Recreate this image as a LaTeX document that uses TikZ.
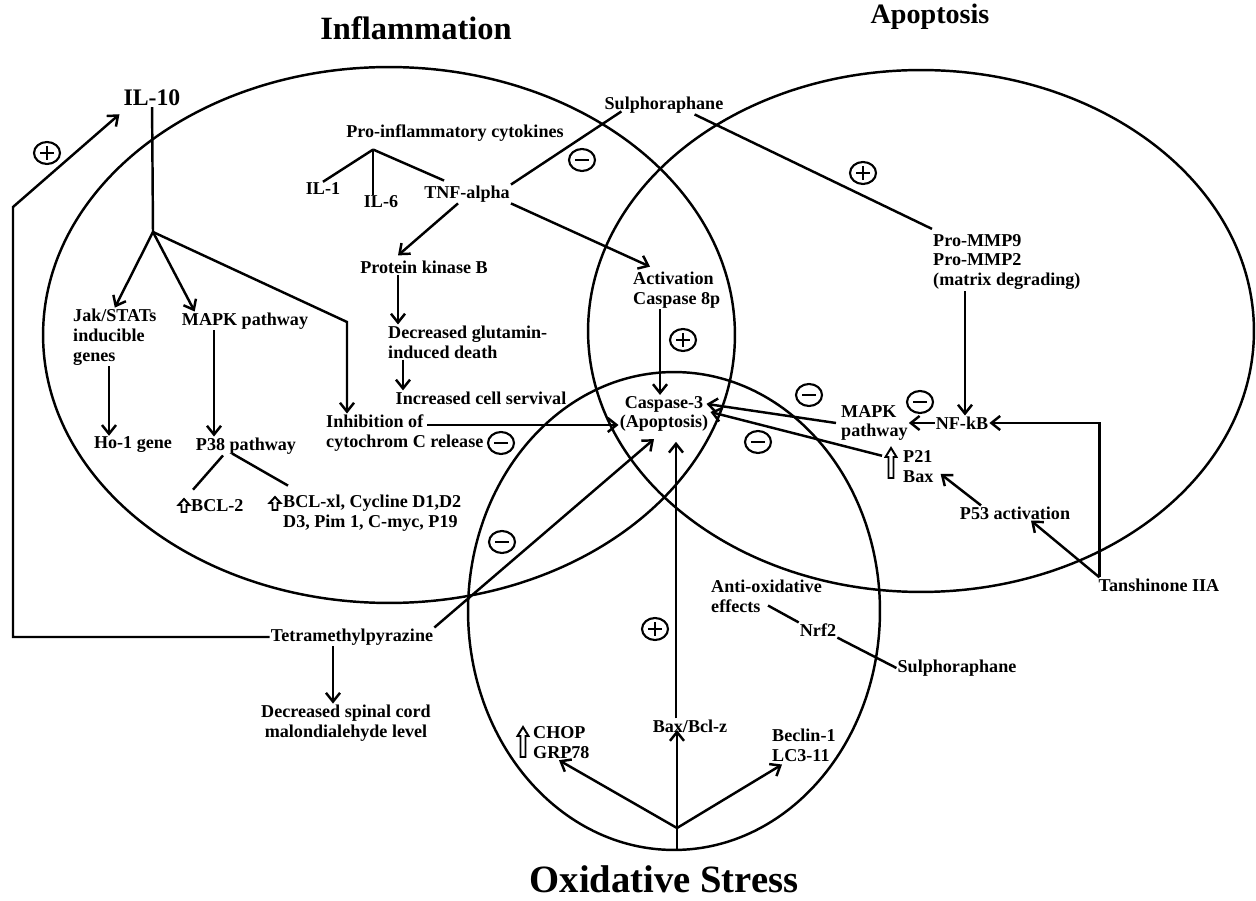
\documentclass[tikz,border=0pt]{standalone}
\usepackage{fontspec}
\setmainfont{Liberation Serif}
\usetikzlibrary{arrows.meta,calc}
\tikzset{
  lbl/.style={font=\bfseries\fontsize{10.3}{11.3}\selectfont, inner sep=0.5pt},
  ttl/.style={font=\bfseries\fontsize{#1}{#1}\selectfont, inner sep=0.5pt},
  ln/.style={line width=1.4pt},
  arr/.style={ln, -{Straight Barb[length=5pt,width=8pt]}},
  ell/.style={line width=1.4pt},
  minusc/.pic={\draw[line width=1.2pt] (0,0) ellipse [x radius=0.26cm, y radius=0.22cm];
               \draw[line width=1.6pt] (-7,0) -- (7,0);},
  plusc/.pic={\draw[line width=1.2pt] (0,0) ellipse [x radius=0.26cm, y radius=0.22cm];
              \draw[line width=1.6pt] (-7,0) -- (7,0) (0,-7) -- (0,7);},
  huptall/.pic={\draw[line width=1.1pt, line join=miter] (-2.5,0) -- (-2.5,-21) -- (-5.5,-21) -- (0,-30) -- (5.5,-21) -- (2.5,-21) -- (2.5,0) -- cycle;},
  hupsmall/.pic={\draw[line width=1.1pt, line join=miter] (-2.5,0) -- (-2.5,-7) -- (-5.5,-7) -- (0,-13) -- (5.5,-7) -- (2.5,-7) -- (2.5,0) -- cycle;}
}
\begin{document}
\begin{tikzpicture}[x=0.02cm,y=-0.02cm]
\fill[white] (0,0) rectangle (1256,901);
\useasboundingbox (0,0) rectangle (1256,901);

% circles
\draw[ell] (389,335) ellipse [x radius=6.92cm, y radius=5.36cm];
\draw[ell] (921,331) ellipse [x radius=6.66cm, y radius=5.22cm];
\draw[ell] (674,611) ellipse [x radius=4.12cm, y radius=4.78cm];

% titles
\node[ttl=18.5] (tinfl) at (416,28) {Inflammation};
\node[ttl=16] (tapop) at (930,17) {Apoptosis};
\node[ttl=22] (toxid) at (664,879) {Oxidative Stress};

% nodes
\node[lbl, font=\bfseries\fontsize{13.5}{15}\selectfont] (il10) at (152,98) {IL-10};
\node[lbl] (procyt) at (455,133) {Pro-inflammatory cytokines};
\node[lbl] (il1) at (323,189) {IL-1};
\node[lbl] (il6) at (381,202) {IL-6};
\node[lbl] (tnf) at (467,194) {TNF-alpha};
\node[lbl] (pkb) at (424,267) {Protein kinase B};
\node[lbl, align=left, anchor=west] (decr) at (387,342) {Decreased glutamin-\\induced death};
\node[lbl] (incr) at (481,398) {Increased cell servival};
\node[lbl, align=left, anchor=west] (jak) at (72,337) {Jak/STATs\\inducible\\genes};
\node[lbl] (ho1) at (133,445) {Ho-1 gene};
\node[lbl] (mapk1) at (245,321) {MAPK pathway};
\node[lbl] (p38) at (246,446) {P38 pathway};
\node[lbl, anchor=west] (bcl2) at (190,506) {BCL-2};
\node[lbl, align=left, anchor=west] (bclxl) at (282,513) {BCL-xl, Cycline D1,D2\\D3, Pim 1, C-myc, P19};
\node[lbl, align=left, anchor=west] (inhib) at (325,433) {Inhibition of\\cytochrom C release};
\node[lbl, align=left, anchor=west] (act) at (632,290) {Activation\\Caspase 8p};
\node[lbl, align=center] (casp) at (664,414) {Caspase-3\\(Apoptosis)};
\node[lbl] (sul1) at (664,105) {Sulphoraphane};
\node[lbl, align=left, anchor=west] (mmp) at (932,262) {Pro-MMP9\\Pro-MMP2\\(matrix degrading)};
\node[lbl] (nfkb) at (962,423) {NF-kB};
\node[lbl, align=left, anchor=west] (mapk2) at (840,423) {MAPK\\pathway};
\node[lbl, align=left, anchor=west] (p21) at (902,467) {P21\\Bax};
\node[lbl] (p53) at (1015,513) {P53 activation};
\node[lbl] (tan) at (1159,585) {Tanshinone IIA};
\node[lbl, align=left, anchor=west] (antiox) at (710,596) {Anti-oxidative\\effects};
\node[lbl] (nrf2) at (818,630) {Nrf2};
\node[lbl] (sul2) at (957,668) {Sulphoraphane};
\node[lbl] (baxbcl) at (690,726) {Bax/Bcl-z};
\node[lbl, align=left, anchor=west] (chop) at (532,743) {CHOP\\GRP78};
\node[lbl, align=left, anchor=west] (beclin) at (771,745) {Beclin-1\\LC3-11};
\node[lbl] (tmp) at (352,637) {Tetramethylpyrazine};
\node[lbl, align=center] (spinal) at (346,723) {Decreased spinal cord\\malondialehyde level};

% hollow up arrows
\pic at (184,512) {hupsmall};
\pic at (275,510) {hupsmall};
\pic at (523,757) {huptall};
\pic at (891,478) {huptall};

% plus / minus marks
\pic at (47,153) {plusc};
\pic at (582,160) {minusc};
\pic at (863,173) {plusc};
\pic at (683,340) {plusc};
\pic at (501,443) {minusc};
\pic at (502,542) {minusc};
\pic at (809,395) {minusc};
\pic at (920,402) {minusc};
\pic at (758,442) {minusc};
\pic at (655,629) {plusc};

% coordinates
\coordinate (il10b) at (153,232);
\coordinate (ibend) at (347,322);
\coordinate (cyta) at ($(procyt.south west)+(28,7)$);
\coordinate (p38l) at ($(p38.south)+(-23,0)$);
\coordinate (p38r) at ($(p38.south)+(-14,-2)$);
\coordinate (oxbot) at (677,850);
\coordinate (oxbr) at (677,828);
\coordinate (fbA) at (13,637);
\coordinate (fbB) at (13,207);
\coordinate (jo) at ($(jak.south west)+(37,0)$);
\coordinate (mo) at ($(mapk1.south)+(-31,0)$);
\coordinate (po) at ($(pkb.south)+(-26,0)$);
\coordinate (dco) at ($(decr.south west)+(16,0)$);
\coordinate (aco) at ($(act.south west)+(28,0)$);
\coordinate (iho) at ($(inhib.west)+(102,-8)$);
\coordinate (mo2) at ($(mmp.south west)+(33,0)$);
\coordinate (to) at ($(tan.north west)+(2,0)$);
\coordinate (bxo) at ($(baxbcl.north)+(-14,0)$);
\coordinate (tso) at ($(tmp.south)+(-19,0)$);

% IL-10 branch
\draw[ln] (il10) -- (il10b);
\draw[arr] (il10b) -- (jak.north);
\draw[arr] (il10b) -- ($(mapk1.north west)+(14,0)$);
\draw[arr] (il10b) -- (ibend) -- (ibend |- inhib.north);
\draw[arr] (jo) -- (jo |- ho1.north);
\draw[arr] (mo) -- (mo |- p38.north);
\draw[ln] (p38l) -- ($(bcl2.north west)+(3,-9)$);
\draw[ln] (p38r) -- ($(bclxl.north west)+(6,-8)$);

% cytokines
\draw[ln] (cyta) -- (il1.north);
\draw[ln] (cyta) -- (cyta |- il6.north);
\draw[ln] (cyta) -- ($(tnf.north west)+(21,-4)$);
\draw[ln] ($(sul1.south west)+(18,-3)$) -- (tnf.north east);
\draw[arr] ($(tnf.south)+(-9,0)$) -- ($(pkb.north)+(-26,-4)$);
\draw[arr] (tnf.south east) -- ($(act.north west)+(18,-4)$);
\draw[arr] (po) -- (po |- decr.north);
\draw[arr] (dco) -- (dco |- incr.north);
\draw[arr] (aco) -- (aco |- casp.north);
\draw[arr] (iho) -- (iho -| casp.west);

% apoptosis side
\draw[ln] ($(sul1.south east)+(-30,0)$) -- ($(mmp.north west)+(0,-4)$);
\draw[arr] (mo2) -- (mo2 |- nfkb.north);
\draw[arr] (nfkb.west) -- (nfkb.west -| mapk2.east);
\draw[arr] ($(mapk2.west)+(-4,0)$) -- ($(casp.north east)+(-3,9)$);
\draw[arr] ($(p21.north west)+(-20,6)$) -- ($(casp.east)+(1,-2)$);
\draw[arr] (to) |- (nfkb.east);
\draw[arr] (to) -- ($(p53.south)+(16,0)$);
\draw[arr] ($(p53.north)+(-34,0)$) -- ($(p21.east)+(6,7)$);

% oxidative side
\draw[ln] ($(antiox.south west)+(58,-8)$) -- (nrf2.north west);
\draw[ln] (nrf2.south east) -- (sul2.west);
\draw[arr, shorten >=-2pt] (oxbot) -- (oxbot |- baxbcl.south);
\draw[arr] (oxbr) -- ($(chop.south west)+(27,0)$);
\draw[arr] (oxbr) -- ($(beclin.south west)+(11,2)$);
\draw[arr, shorten >=5pt] (bxo) -- (bxo |- casp.south);

% tetramethylpyrazine
\draw[arr] (tmp.north east) -- ($(casp.south)+(-10,6)$);
\draw[arr] (tso) -- (tso |- spinal.north);
\draw[arr] (tmp.west) -- (fbA) -- (fbB) -- ($(il10.south west)+(-3,7)$);
\end{tikzpicture}
\end{document}
